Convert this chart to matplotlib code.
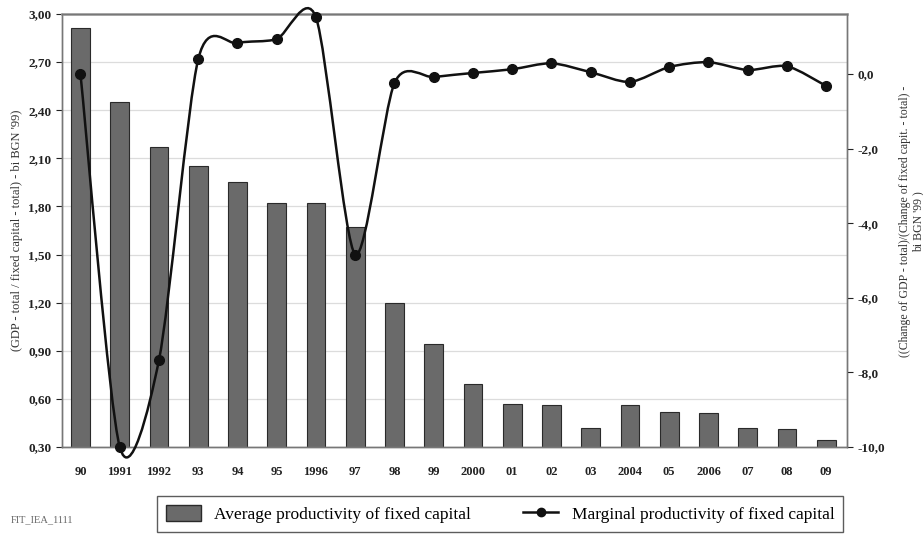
import numpy as np
import matplotlib.pyplot as plt
from matplotlib.path import Path
from matplotlib.patches import PathPatch
from matplotlib.lines import Line2D
from matplotlib.ticker import FuncFormatter

plt.rcParams['font.family'] = ['Liberation Serif', 'DejaVu Serif']

years = ['90', '1991', '1992', '93', '94', '95', '1996', '97', '98', '99',
         '2000', '01', '02', '03', '2004', '05', '2006', '07', '08', '09']
avg_prod = [2.91, 2.45, 2.17, 2.05, 1.95, 1.82, 1.82, 1.67, 1.20, 0.94,
            0.69, 0.57, 0.56, 0.42, 0.56, 0.52, 0.51, 0.42, 0.41, 0.34]
marg_prod = [0.0, -10.0, -7.67, 0.40, 0.83, 0.94, 1.52, -4.84, -0.24, -0.08,
             0.03, 0.13, 0.29, 0.05, -0.21, 0.19, 0.32, 0.11, 0.21, -0.32]

left_ticks = [0.30, 0.60, 0.90, 1.20, 1.50, 1.80, 2.10, 2.40, 2.70, 3.00]
right_ticks = [-10.0, -8.0, -6.0, -4.0, -2.0, 0.0]

comma2 = FuncFormatter(lambda v, p: f'{v:.2f}'.replace('.', ','))
comma1 = FuncFormatter(lambda v, p: f'{v:.1f}'.replace('.', ','))


def smooth_path(xs, ys, k=7.5):
    # Catmull-Rom style curve through the points, as cubic Bezier segments
    pts = np.column_stack([xs, ys]).astype(float)
    n = len(pts)
    verts = [pts[0]]
    codes = [Path.MOVETO]
    for i in range(n - 1):
        p0 = pts[max(i - 1, 0)]
        p1 = pts[i]
        p2 = pts[i + 1]
        p3 = pts[min(i + 2, n - 1)]
        c1 = p1 + (p2 - p0) / k
        c2 = p2 - (p3 - p1) / k
        verts += [c1, c2, p2]
        codes += [Path.CURVE4] * 3
    return Path(verts, codes)


fig = plt.figure(figsize=(9.23, 5.41), dpi=100)
ax = fig.add_axes([0.0672, 0.174, 0.8505, 0.800])
x = np.arange(len(years))

ax.bar(x, avg_prod, width=0.48, color='#6a6a6a', edgecolor='#2a2a2a',
       linewidth=0.8, zorder=2)
ax.set_ylim(0.30, 3.00)
ax.set_yticks(left_ticks)
ax.yaxis.set_major_formatter(comma2)
ax.set_xlim(-0.47, 19.53)
ax.set_xticks(x)
ax.set_xticklabels(years)
ax.grid(axis='y', color='#dcdcdc', linewidth=0.9, zorder=0)
ax.set_axisbelow(True)

ax2 = ax.twinx()
ax2.set_ylim(-10.0, 1.61)
ax2.set_yticks(right_ticks)
ax2.yaxis.set_major_formatter(comma1)
curve = PathPatch(smooth_path(x, marg_prod), facecolor='none', edgecolor='#111111',
                  linewidth=1.8, transform=ax2.transData, clip_on=False, zorder=3)
ax2.add_patch(curve)
ax2.plot(x, marg_prod, linestyle='none', marker='o', markersize=7,
         color='#111111', clip_on=False, zorder=4)

for a in (ax, ax2):
    for s in a.spines.values():
        s.set_color('#777777')
        s.set_linewidth(1.0)
    a.tick_params(labelsize=9.5, colors='#222222', length=4, width=0.8)
    for lab in a.get_xticklabels() + a.get_yticklabels():
        lab.set_fontweight('bold')
ax.spines['top'].set_color('#aaaaaa')
ax.spines['top'].set_linewidth(2.0)
ax.tick_params(axis='x', length=0, pad=14, labelsize=9)

ax.set_ylabel("(GDP - total / fixed capital - total) - bi BGN '99)",
              fontsize=9, color='#333333', labelpad=4)
ax2.set_ylabel("((Change of GDP - total)/(Change of fixed capit. - total) -\nbi BGN '99 )",
               fontsize=8.5, color='#333333', rotation=90, va='center', ha='center')
ax2.yaxis.set_label_coords(1.082, 0.52)

handles = [
    plt.Rectangle((0, 0), 1, 1, facecolor='#6a6a6a', edgecolor='#2a2a2a'),
    Line2D([0], [0], color='#111111', linewidth=1.8, marker='o', markersize=6),
]
leg = fig.legend(handles, ['Average productivity of fixed capital',
                           'Marginal productivity of fixed capital'],
                 loc='center', bbox_to_anchor=(0.542, 0.05), ncol=2,
                 fontsize=12.5, frameon=True, fancybox=False, handlelength=2.0,
                 handleheight=1.1, columnspacing=3.0, borderpad=0.5)
leg.get_frame().set_edgecolor('#333333')
leg.get_frame().set_linewidth(1.0)

fig.text(0.012, 0.035, 'FIT_IEA_1111', fontsize=7.5, color='#666666')

fig.savefig('out.png', dpi=100)
